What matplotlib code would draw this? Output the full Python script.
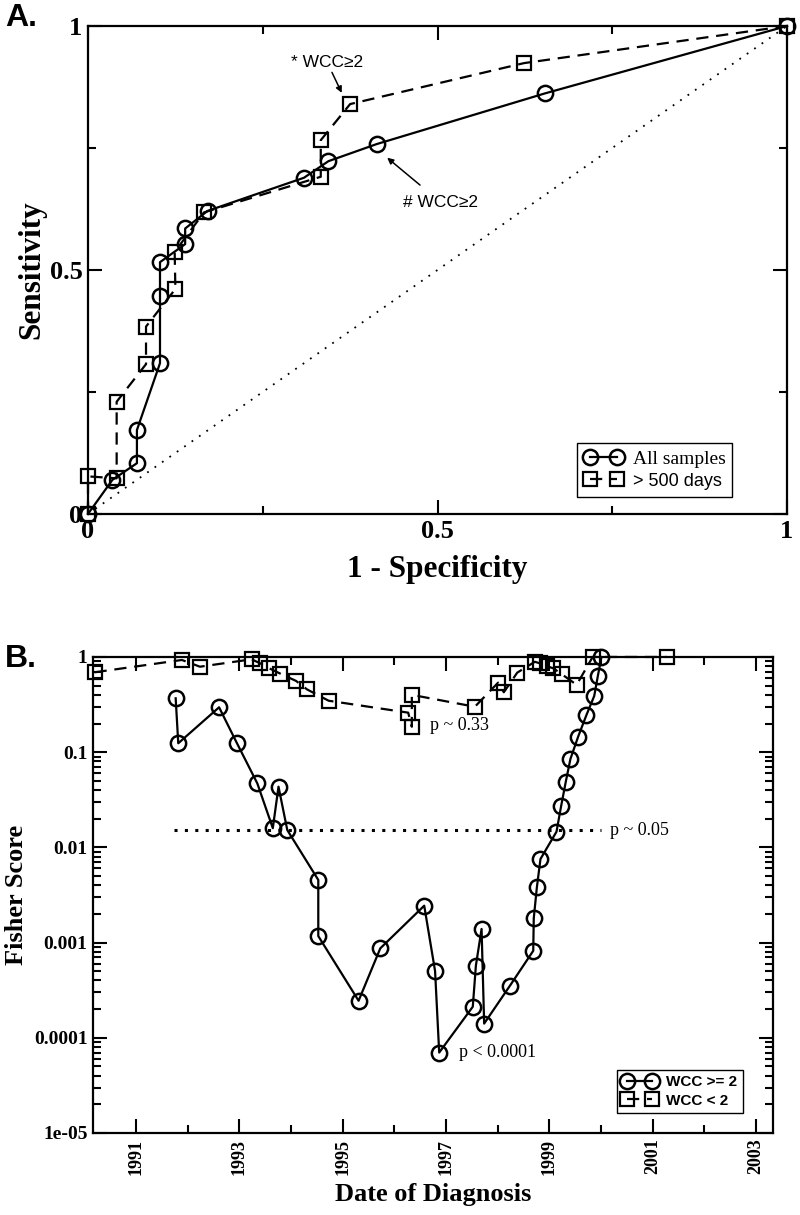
import matplotlib
matplotlib.use("Agg")
import matplotlib.pyplot as plt
from matplotlib.ticker import FixedLocator, FixedFormatter, LogLocator, NullFormatter
import numpy as np

SERIF = "Liberation Serif"
SANS = "Liberation Sans"

# ---------------- Panel A data (ROC curves) ----------------
all_fpr = [0.0, 0.035, 0.070, 0.070, 0.103, 0.103, 0.103, 0.139, 0.139, 0.171,
           0.309, 0.344, 0.413, 0.654, 1.0]
all_tpr = [0.0, 0.070, 0.104, 0.172, 0.309, 0.447, 0.516, 0.553, 0.585, 0.621,
           0.689, 0.723, 0.758, 0.862, 1.0]
long_fpr = [0.0, 0.0, 0.041, 0.041, 0.083, 0.083, 0.125, 0.124, 0.166, 0.333,
            0.333, 0.375, 0.624, 1.0]
long_tpr = [0.0, 0.077, 0.073, 0.230, 0.307, 0.384, 0.461, 0.537, 0.618, 0.691,
            0.766, 0.840, 0.924, 1.0]
a_ticks = [0, 0.5, 1]
a_ticklabels = ["0", "0.5", "1"]

# ---------------- Panel B data (Fisher score vs date) ----------------
hi_year = [1991.77, 1991.82, 1992.61, 1992.95, 1993.35, 1993.65, 1993.76, 1993.93,
           1994.53, 1994.53, 1995.31, 1995.73, 1996.58, 1996.79, 1996.87, 1997.52,
           1997.58, 1997.69, 1997.74, 1998.24, 1998.69, 1998.70, 1998.76, 1998.83,
           1999.14, 1999.23, 1999.32, 1999.41, 1999.56, 1999.72, 1999.87, 1999.94,
           2000.01]
hi_p = [0.368, 0.124, 0.296, 0.126, 0.047, 0.0159, 0.0434, 0.0152,
        0.00455, 0.00117, 0.000245, 0.00087, 0.00244, 0.000503, 7.0e-5, 0.000212,
        0.000573, 0.00139, 0.000141, 0.000353, 0.00082, 0.0018, 0.0038, 0.00755,
        0.0146, 0.0272, 0.049, 0.085, 0.146, 0.246, 0.389, 0.63,
        1.0]
lo_year = [1990.20, 1991.89, 1992.24, 1993.24, 1993.40, 1993.58, 1993.79, 1994.10,
           1994.31, 1994.73, 1996.27, 1996.34, 1996.34, 1997.56, 1998.01, 1998.12,
           1998.38, 1998.72, 1998.82, 1998.95, 1999.08, 1999.24, 1999.53, 1999.84,
           2001.27]
lo_p = [0.69, 0.93, 0.79, 0.945, 0.86, 0.76, 0.67, 0.56,
        0.457, 0.347, 0.26, 0.185, 0.40, 0.30, 0.537, 0.426,
        0.684, 0.89, 0.857, 0.80, 0.76, 0.66, 0.51, 1.0,
        1.0]
thresh_p = 0.0152
thresh_x = [1991.73, 2000.01]
year_major = [1991, 1993, 1995, 1997, 1999, 2001, 2003]
year_minor = [1992, 1994, 1996, 1998, 2000, 2002]
b_yticks = [1, 0.1, 0.01, 0.001, 0.0001, 1e-05]
b_yticklabels = ["1", "0.1", "0.01", "0.001", "0.0001", "1e-05"]

fig = plt.figure(figsize=(8, 12.15), dpi=100)

def style_axes(ax):
    for s in ax.spines.values():
        s.set_linewidth(1.6)
    ax.tick_params(which="both", direction="in", top=True, right=True, width=1.5)

# ================= Panel A =================
axA = fig.add_axes([0.11, 0.5770, 0.87375, 0.4016])
axA.plot([0, 1], [0, 1], color="black", lw=1.3, linestyle=(0, (1, 4)))
axA.plot(all_fpr, all_tpr, color="black", lw=1.6, marker="o", ms=11,
         mfc="none", mew=1.8, label="All samples", zorder=3, clip_on=False)
axA.plot(long_fpr, long_tpr, color="black", lw=1.6, linestyle=(0, (5.5, 3.5)),
         marker="s", ms=9.5, mfc="none", mew=1.6, label="> 500 days", zorder=3,
         clip_on=False)
axA.set_xlim(0, 1)
axA.set_ylim(0, 1)
style_axes(axA)
axA.xaxis.set_major_locator(FixedLocator(a_ticks))
axA.yaxis.set_major_locator(FixedLocator(a_ticks))
axA.xaxis.set_major_formatter(FixedFormatter(a_ticklabels))
axA.yaxis.set_major_formatter(FixedFormatter(a_ticklabels))
axA.xaxis.set_minor_locator(FixedLocator([0.25, 0.75]))
axA.yaxis.set_minor_locator(FixedLocator([0.25, 0.75]))
axA.tick_params(which="major", length=10, pad=4)
axA.tick_params(which="minor", length=6)
for lab in axA.get_xticklabels() + axA.get_yticklabels():
    lab.set_fontfamily(SERIF)
    lab.set_fontweight("bold")
    lab.set_fontsize(19)
axA.set_xlabel("1 - Specificity", fontfamily=SERIF, fontweight="bold",
               fontsize=22.5, labelpad=9)
axA.set_ylabel("Sensitivity", fontfamily=SERIF, fontweight="bold",
               fontsize=22.5, labelpad=2)

arrowkw = dict(arrowstyle="-|>", color="black", lw=1.1, mutation_scale=9,
               shrinkA=0, shrinkB=0)
axA.annotate("* WCC≥2", xy=(0.363, 0.863), xytext=(0.342, 0.926),
             textcoords="data", ha="center", va="center", fontsize=12.5,
             fontfamily=SANS, arrowprops=arrowkw)
axA.annotate("", xy=(0.428, 0.730), xytext=(0.475, 0.674), arrowprops=arrowkw)
axA.text(0.451, 0.639, "# WCC≥2", ha="left", va="center", fontsize=12.5,
         fontfamily=SANS)

legA = axA.legend(loc="lower left", bbox_to_anchor=(0.70, 0.035), numpoints=2,
                  handlelength=2.0, fancybox=False, edgecolor="black",
                  framealpha=1, borderpad=0.35, labelspacing=0.25,
                  handletextpad=0.5, borderaxespad=0, prop={"size": 14})
legA.get_frame().set_linewidth(1.0)
t0, t1 = legA.get_texts()
t0.set_fontfamily(SERIF)
t1.set_fontfamily(SANS)
t1.set_fontsize(13)

fig.text(0.006, 0.985, "A.", fontfamily=SANS, fontweight="bold", fontsize=23,
         ha="left", va="center")

# ================= Panel B =================
axB = fig.add_axes([0.11625, 0.06749, 0.85, 0.3918])
axB.set_yscale("log")
axB.plot(thresh_x, [thresh_p, thresh_p], color="black", lw=2.2,
         linestyle=(0, (1, 2.4)))
axB.plot(lo_year, lo_p, color="black", lw=1.6, linestyle=(0, (5.5, 3.5)),
         marker="s", ms=9.5, mfc="none", mew=1.6, label="WCC < 2", zorder=3,
         clip_on=False)
axB.plot(hi_year, hi_p, color="black", lw=1.6, marker="o", ms=11,
         mfc="none", mew=1.8, label="WCC >= 2", zorder=4, clip_on=False)
axB.set_xlim(1990.17, 2003.33)
axB.set_ylim(1e-5, 1)
style_axes(axB)
axB.xaxis.set_major_locator(FixedLocator(year_major))
axB.xaxis.set_minor_locator(FixedLocator(year_minor))
axB.xaxis.set_major_formatter(FixedFormatter([str(y) for y in year_major]))
axB.yaxis.set_major_locator(FixedLocator(b_yticks))
axB.yaxis.set_major_formatter(FixedFormatter(b_yticklabels))
axB.yaxis.set_minor_locator(LogLocator(base=10, subs=np.arange(2, 10)))
axB.yaxis.set_minor_formatter(NullFormatter())
axB.tick_params(which="major", length=10, pad=4)
axB.tick_params(which="minor", length=5.5)
for lab in axB.get_yticklabels():
    lab.set_fontfamily(SERIF)
    lab.set_fontweight("bold")
    lab.set_fontsize(14)
for lab in axB.get_xticklabels():
    lab.set_fontfamily(SERIF)
    lab.set_fontweight("bold")
    lab.set_fontsize(13)
    lab.set_rotation(90)
axB.set_xlabel("Date of Diagnosis", fontfamily=SERIF, fontweight="bold",
               fontsize=19, labelpad=6)
axB.set_ylabel("Fisher Score", fontfamily=SERIF, fontweight="bold",
               fontsize=19, labelpad=4)

axB.text(1996.69, 0.19, "p ~ 0.33", fontfamily=SERIF, fontsize=13,
         ha="left", va="center")
axB.text(2000.18, thresh_p, "p ~ 0.05", fontfamily=SERIF, fontsize=13,
         ha="left", va="center")
axB.text(1997.25, 7.0e-5, "p < 0.0001", fontfamily=SERIF, fontsize=13,
         ha="left", va="center")

hB, lB = axB.get_legend_handles_labels()
legB = axB.legend([hB[1], hB[0]], [lB[1], lB[0]], loc="lower left",
                  bbox_to_anchor=(0.771, 0.042), numpoints=2,
                  handlelength=2.25, fancybox=False, edgecolor="black",
                  framealpha=1, borderpad=0.35, labelspacing=0.3,
                  handletextpad=0.6, borderaxespad=0,
                  prop={"family": SANS, "weight": "bold", "size": 11})
legB.get_frame().set_linewidth(1.0)

fig.text(0.006, 0.458, "B.", fontfamily=SANS, fontweight="bold", fontsize=23,
         ha="left", va="center")

fig.savefig("out.png", dpi=100)
